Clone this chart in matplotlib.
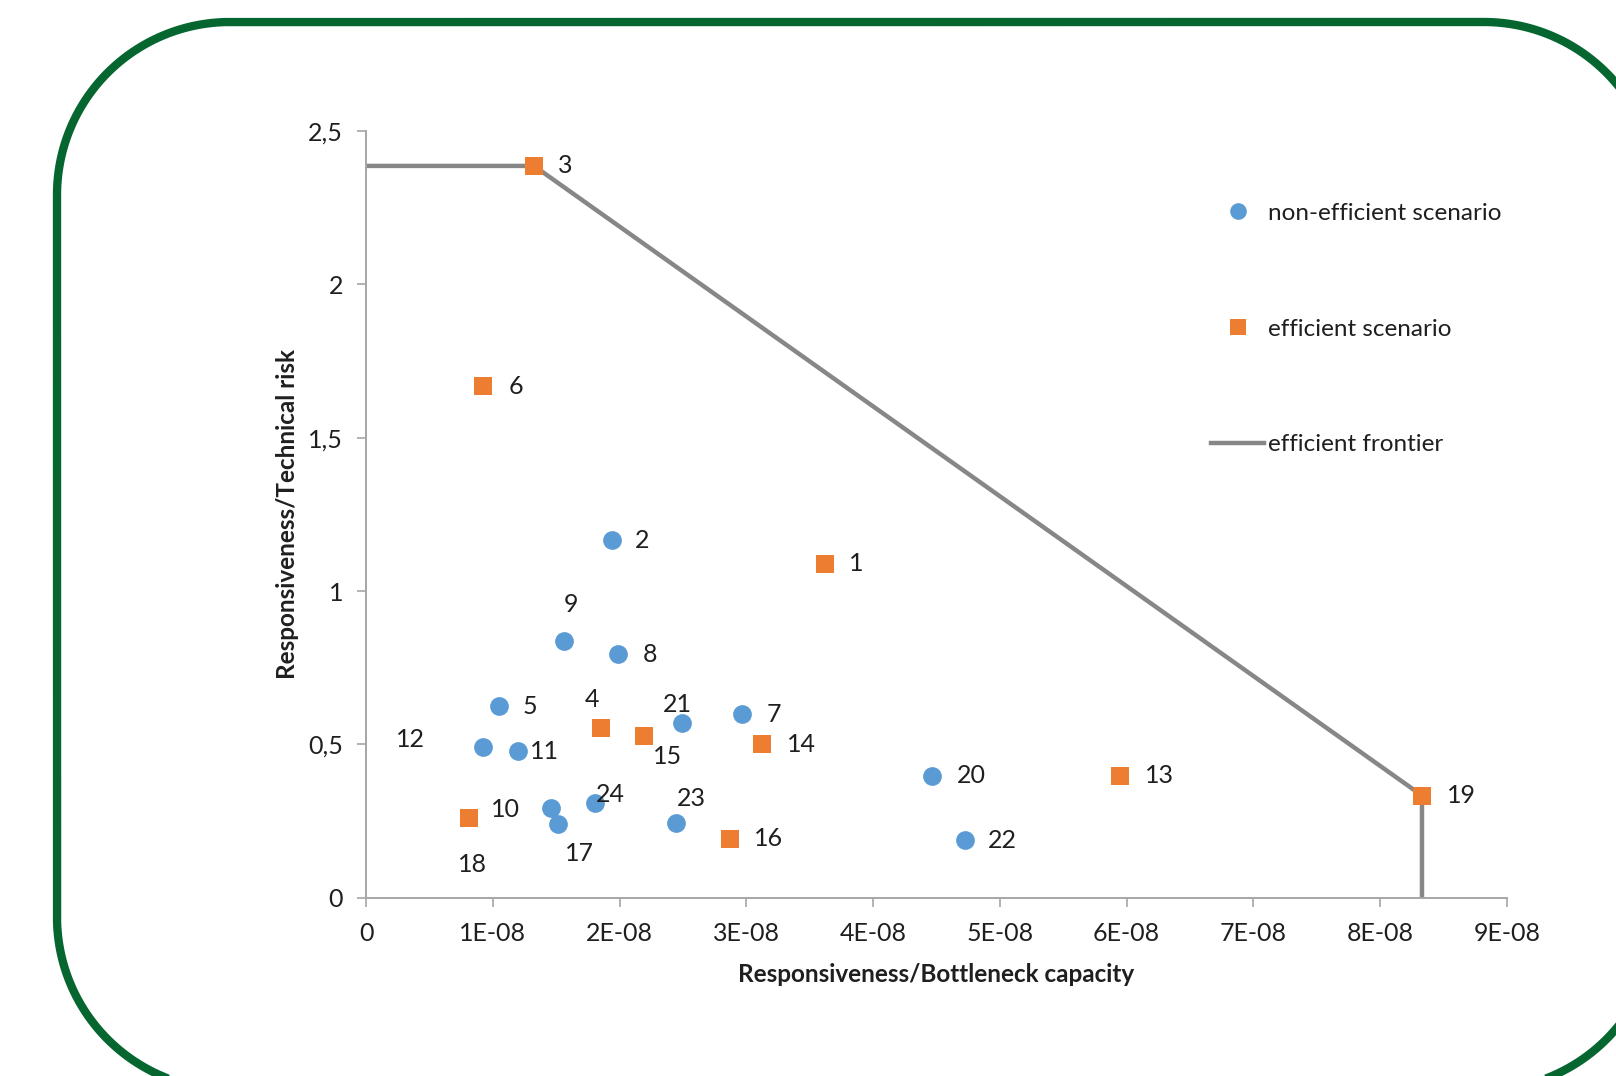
import matplotlib
matplotlib.use("Agg")
import numpy as np
import matplotlib.pyplot as plt
from matplotlib.lines import Line2D

plt.rcParams['font.family'] = ['Lato', 'DejaVu Sans']

# efficient scenarios (orange squares)
eff_ids = ['3', '6', '1', '4', '15', '14', '13', '19', '10', '16']
eff_x = [1.325e-8, 0.919e-8, 3.62e-8, 1.854e-8, 2.195e-8, 3.12e-8, 5.95e-8, 8.33e-8, 0.813e-8, 2.87e-8]
eff_y = [2.386, 1.667, 1.089, 0.554, 0.528, 0.501, 0.397, 0.333, 0.259, 0.192]

# non-efficient scenarios (blue circles)
non_ids = ['2', '9', '8', '5', '21', '7', '12', '11', '20', '24', '18', '17', '23', '22']
non_x = [1.943e-8, 1.561e-8, 1.984e-8, 1.049e-8, 2.496e-8, 2.967e-8, 0.919e-8, 1.195e-8,
         4.463e-8, 1.805e-8, 1.463e-8, 1.512e-8, 2.447e-8, 4.724e-8]
non_y = [1.166, 0.837, 0.793, 0.625, 0.571, 0.598, 0.491, 0.477,
         0.397, 0.309, 0.292, 0.239, 0.242, 0.188]

# efficient frontier
frontier_x = [0, 1.325e-8, 8.33e-8, 8.33e-8]
frontier_y = [2.386, 2.386, 0.333, 0]

x_ticks = [0, 1e-8, 2e-8, 3e-8, 4e-8, 5e-8, 6e-8, 7e-8, 8e-8, 9e-8]
x_ticklabels = ['0', '1E-08', '2E-08', '3E-08', '4E-08', '5E-08', '6E-08', '7E-08', '8E-08', '9E-08']
y_ticks = [0, 0.5, 1, 1.5, 2, 2.5]
y_ticklabels = ['0', '0,5', '1', '1,5', '2', '2,5']

# label offsets in pixels (dx, dy)
label_offsets = {
    '3': (31, 0), '6': (33, 0), '1': (31, 0), '4': (-9, 28), '15': (23, -21),
    '14': (40, 0), '13': (39, 0), '19': (39, 0), '10': (36, 9), '16': (39, 0),
    '2': (30, 0), '9': (7, 36), '8': (32, 0), '5': (31, 0), '21': (-5, 18),
    '7': (32, 0), '12': (-72, 8), '11': (27, 0), '20': (40, 0), '24': (16, 8),
    '18': (-79, -56), '17': (22, -29), '23': (15, 25), '22': (38, 0),
}

blue = '#5B9BD5'
orange = '#ED7D31'
grey_line = '#878787'
axis_grey = '#A6A6A6'
text_col = '#1f1f1f'
fs = 18

fig = plt.figure(figsize=(16.16, 10.76), dpi=100)

# rounded green frame, sampled as a polyline (inches), runs past the right and bottom edges
def rounded_rect(x0, y0, x1, y1, r, n=60):
    pts = []
    corners = [(x1 - r, y1 - r, 0), (x0 + r, y1 - r, 90), (x0 + r, y0 + r, 180), (x1 - r, y0 + r, 270)]
    for cx, cy, a0 in corners:
        t = np.radians(np.linspace(a0, a0 + 90, n))
        pts.append(np.column_stack([cx + r * np.cos(t), cy + r * np.sin(t)]))
    pts = np.vstack(pts + [pts[0][:1]])
    return pts[:, 0], pts[:, 1]

fx, fy = rounded_rect(0.57, -0.14, 16.57, 10.54, 1.73)
fig.add_artist(Line2D(fx, fy, transform=fig.dpi_scale_trans, color='#05672F',
                      linewidth=6, solid_joinstyle='round'))

ax = fig.add_axes([0.2265, 0.1657, 0.706, 0.7126])

ax.plot(frontier_x, frontier_y, color=grey_line, linewidth=3.2, zorder=2,
        solid_capstyle='butt')
ax.plot(non_x, non_y, linestyle='none', marker='o', markersize=13.5,
        color=blue, markeredgewidth=0, zorder=3)
ax.plot(eff_x, eff_y, linestyle='none', marker='s', markersize=13.5,
        color=orange, markeredgewidth=0, zorder=3)

for ids, xs, ys in [(eff_ids, eff_x, eff_y), (non_ids, non_x, non_y)]:
    for lab, x, y in zip(ids, xs, ys):
        dx, dy = label_offsets[lab]
        ax.annotate(lab, (x, y), xytext=(dx, dy), textcoords='offset pixels',
                    ha='center', va='center', fontsize=fs, color=text_col, zorder=4)

ax.set_xlim(0, 9e-8)
ax.set_ylim(0, 2.5)
ax.set_xticks(x_ticks)
ax.set_xticklabels(x_ticklabels)
ax.set_yticks(y_ticks)
ax.set_yticklabels(y_ticklabels)

for side in ['top', 'right']:
    ax.spines[side].set_visible(False)
for side in ['left', 'bottom']:
    ax.spines[side].set_color(axis_grey)
    ax.spines[side].set_linewidth(1.4)
ax.tick_params(axis='both', direction='out', length=6.5, width=1.2, color=axis_grey,
               labelsize=fs, labelcolor=text_col)
ax.tick_params(axis='x', pad=11)
ax.tick_params(axis='y', pad=10)

ax.set_xlabel('Responsiveness/Bottleneck capacity', fontsize=17.5, fontweight='bold',
              color=text_col, labelpad=13)
ax.set_ylabel('Responsiveness/Technical risk', fontsize=17.5, fontweight='bold',
              color=text_col, labelpad=7)

handles = [
    Line2D([], [], linestyle='none', marker='o', markersize=12, color=blue, markeredgewidth=0),
    Line2D([], [], linestyle='none', marker='s', markersize=12, color=orange, markeredgewidth=0),
    Line2D([], [], color=grey_line, linewidth=3.2),
]
labels = ['non-efficient scenario', 'efficient scenario', 'efficient frontier']
fig.legend(handles, labels, loc='center left', bbox_to_anchor=(0.7494, 0.6942),
           frameon=False, fontsize=17.5, labelspacing=3.9, handlelength=2.18,
           handletextpad=0.16, borderpad=0, borderaxespad=0, labelcolor=text_col)

fig.savefig('out.png', dpi=100)
